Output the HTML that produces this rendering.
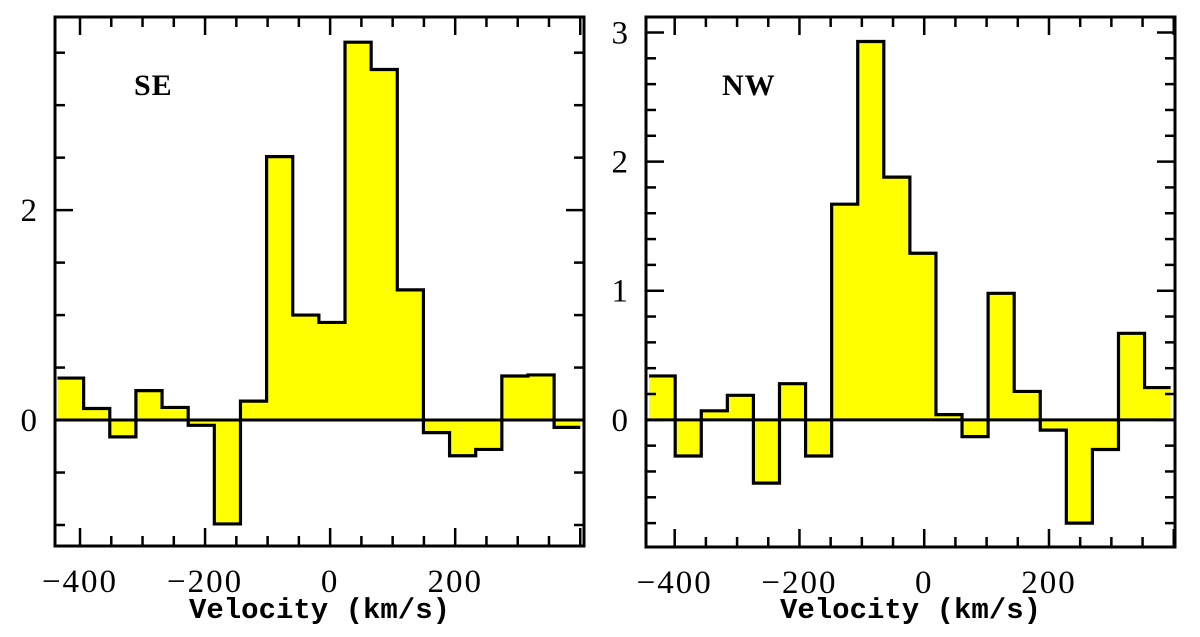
<!DOCTYPE html>
<html><head><meta charset="utf-8"><style>
html,body{margin:0;padding:0;background:#fff;}
svg{display:block;}
text{font-family:"Liberation Serif",serif;fill:#000;}
text.mono{font-family:"Liberation Mono",monospace;}
</style></head><body>
<svg id="chart" width="1200" height="637" viewBox="0 0 1200 637" xmlns="http://www.w3.org/2000/svg"></svg>
<script>
const binWidth = 41.8;
const seFirstEdge = -436;
const seValues = [0.40,0.11,-0.16,0.28,0.12,-0.05,-0.99,0.18,2.51,1.00,0.93,3.60,3.34,1.24,-0.12,-0.34,-0.28,0.42,0.43,-0.07];
const nwFirstEdge = -441;
const nwValues = [0.34,-0.28,0.07,0.19,-0.49,0.28,-0.28,1.67,2.93,1.88,1.29,0.04,-0.13,0.98,0.22,-0.08,-0.80,-0.23,0.67,0.25];
const xTickLabels = [-400,-200,0,200];
const seYTickLabels = [0,2];
const nwYTickLabels = [0,1,2,3];

const NS="http://www.w3.org/2000/svg";
const svg=document.getElementById('chart');
function mk(tag,attrs,parent){const e=document.createElementNS(NS,tag);for(const k in attrs)e.setAttribute(k,attrs[k]);(parent||svg).appendChild(e);return e;}

function panel(cfg){
  const g=mk('g',{});
  
  
  const xs=v=>cfg.L+(v-cfg.xmin)/(cfg.xmax-cfg.xmin)*(cfg.R-cfg.L);
  const ys=v=>cfg.B-(v-cfg.ymin)/(cfg.ymax-cfg.ymin)*(cfg.B-cfg.T);
  let d='M'+Math.max(xs(cfg.first),cfg.L)+','+ys(0);
  let outline='';
  cfg.values.forEach((v,i)=>{
    const x0=Math.max(xs(cfg.first+i*binWidth),cfg.L), x1=Math.min(xs(cfg.first+(i+1)*binWidth),cfg.R);
    d+=' L'+x0+','+ys(v)+' L'+x1+','+ys(v);
    outline+=(i===0?'M':' L')+x0+','+ys(v)+' L'+x1+','+ys(v);
  });
  const lastX=Math.min(xs(cfg.first+cfg.values.length*binWidth),cfg.R);
  d+=' L'+lastX+','+ys(0)+' Z';
  const fill=mk('path',{d:d,fill:'#ffff00',stroke:'none'},g);
  
  
  const zl=mk('line',{x1:cfg.L,x2:cfg.R,y1:ys(0),y2:ys(0),stroke:'#000','stroke-width':3},g);
  
  
  const ol=mk('path',{d:outline,fill:'none',stroke:'#000','stroke-width':3.2},g);
  
  
  for(let v=-400;v<=cfg.xmax;v+=50){
    const X=xs(v), len=(v%200===0)?18:10;
    mk('line',{x1:X,x2:X,y1:cfg.B,y2:cfg.B-len,stroke:'#000','stroke-width':2.5},g);
    mk('line',{x1:X,x2:X,y1:cfg.T,y2:cfg.T+len,stroke:'#000','stroke-width':2.5},g);
  }
  xTickLabels.forEach(v=>{
    const t=mk('text',{x:xs(v),y:cfg.B+46,'font-size':33,'text-anchor':'middle','letter-spacing':'2'},g);
    t.textContent=(v<0?'\u2212':'')+Math.abs(v);
    
    
  });
  for(let k=Math.ceil(cfg.ymin/cfg.minor);k*cfg.minor<=cfg.ymax;k++){
    const v=k*cfg.minor, Y=ys(v);
    const major=Math.abs(v/cfg.major-Math.round(v/cfg.major))<1e-6;
    const len=major?18:10;
    mk('line',{x1:cfg.L,x2:cfg.L+len,y1:Y,y2:Y,stroke:'#000','stroke-width':2.5},g);
    mk('line',{x1:cfg.R,x2:cfg.R-len,y1:Y,y2:Y,stroke:'#000','stroke-width':2.5},g);
  }
  cfg.yLabels.forEach(v=>{
    const t=mk('text',{x:cfg.L-18,y:ys(v)+11,'font-size':33,'text-anchor':'end'},g);
    t.textContent=v;
    
    
  });
  const fr=mk('rect',{x:cfg.L,y:cfg.T,width:cfg.R-cfg.L,height:cfg.B-cfg.T,fill:'none',stroke:'#000','stroke-width':3},g);
  
  
  const lab=mk('text',{x:cfg.labelX,y:95,'font-size':30,'font-weight':'bold','letter-spacing':'1'},g);
  lab.textContent=cfg.label;
  
  
  const xt=mk('text',{x:(cfg.L+cfg.R)/2,y:618,'font-size':29,'font-weight':'bold','text-anchor':'middle','class':'mono'},g);
  xt.textContent='Velocity (km/s)';
  
  
}

panel({name:'se',L:55,R:584,T:17,B:546,xmin:-440,xmax:406,ymin:-1.2,ymax:3.84,minor:0.5,major:2,
  first:seFirstEdge,values:seValues,yLabels:seYTickLabels,label:'SE',labelX:134});
panel({name:'nw',L:646,R:1175,T:17,B:547,xmin:-446,xmax:402,ymin:-0.985,ymax:3.12,minor:0.2,major:1,
  first:nwFirstEdge,values:nwValues,yLabels:nwYTickLabels,label:'NW',labelX:722});
</script>
</body></html>
